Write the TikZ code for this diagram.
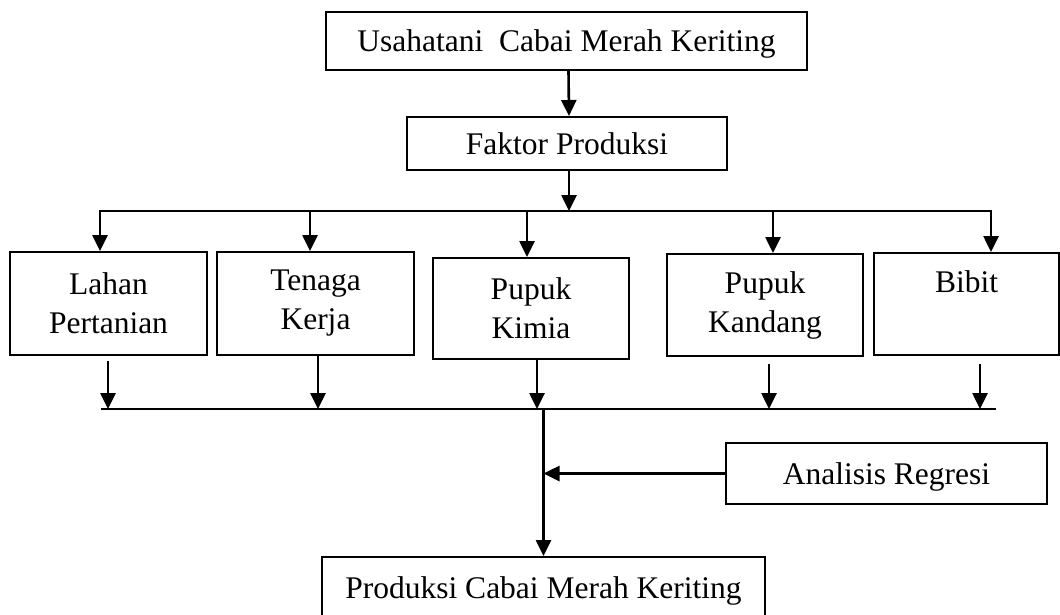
\documentclass[tikz,border=0pt]{standalone}
\usepackage{fontspec}
\setmainfont{Liberation Serif}
\usetikzlibrary{arrows.meta}
\begin{document}
\begin{tikzpicture}[x=1pt,y=-1pt,
  box/.style={draw, line width=2pt, inner sep=0pt, font=\fontsize{31.5}{39}\selectfont},
  one/.style={text height=21pt, text depth=0pt},
  two/.style={align=center},
  arr/.style={line width=2.6pt, -{Triangle[length=16pt,width=15pt]}},
  ln/.style={line width=2.6pt, line cap=rect}]
\useasboundingbox (0,0) rectangle (1060,614);
\clip (0,0) rectangle (1060,614);

\node[box,one,minimum width=481pt,minimum height=58pt] (top) at (566.5,41) {Usahatani\ \ Cabai Merah Keriting};
\node[box,one,minimum width=320pt,minimum height=53pt] (faktor) at (567,143.5) {Faktor Produksi};

\node[box,two,minimum width=197pt,minimum height=103pt] (lahan) at (108.5,303.5) {Lahan\\Pertanian};
\node[box,two,minimum width=197pt,minimum height=103pt] (tenaga) at (315.5,303.5) {Tenaga\\Kerja};
\node[box,two,minimum width=196pt,minimum height=101pt] (kimia) at (531,308.5) {Pupuk\\Kimia};
\node[box,two,minimum width=196pt,minimum height=102pt] (kandang) at (765,305) {Pupuk\\Kandang};
\node[box,two,minimum width=185pt,minimum height=102pt] (bibit) at (966.5,304) {Bibit\\\phantom{Kandang}};

\node[box,one,minimum width=321pt,minimum height=61pt] (analisis) at (886.5,473.5) {Analisis Regresi};
\node[box,one,minimum width=443pt,minimum height=61pt] (produksi) at (543.5,587.5) {Produksi Cabai Merah Keriting};

\coordinate (b1l) at (100,211);
\coordinate (b1r) at (991,211);
\coordinate (b2l) at (102,409);
\coordinate (b2r) at (995,409);

% top part
\draw[arr] ([xshift=2pt]top.south) -- ([xshift=2pt]faktor.north);
\draw[arr] ([xshift=2pt]faktor.south) -- ([xshift=2pt]faktor.south |- b1l);
\draw[ln] (b1l) -- (b1r);
\draw[arr] (b1l) -- (b1l |- lahan.north);
\draw[arr] ([xshift=-5.5pt]tenaga.north |- b1l) -- ([xshift=-5.5pt]tenaga.north);
\draw[arr] ([xshift=-4pt]kimia.north |- b1l) -- ([xshift=-4pt]kimia.north);
\draw[arr] ([xshift=8pt]kandang.north |- b1l) -- ([xshift=8pt]kandang.north);
\draw[arr] (b1r) -- (b1r |- bibit.north);

% lower part
\draw[arr] ([xshift=-0.5pt,yshift=-5pt]lahan.south) -- ([xshift=-0.5pt]lahan.south |- b2l);
\draw[arr] ([xshift=2.5pt]tenaga.south) -- ([xshift=2.5pt]tenaga.south |- b2l);
\draw[arr] ([xshift=6pt]kimia.south) -- ([xshift=6pt]kimia.south |- b2l);
\draw[arr] ([xshift=4pt,yshift=-7pt]kandang.south) -- ([xshift=4pt]kandang.south |- b2l);
\draw[arr] ([xshift=13.5pt,yshift=-8pt]bibit.south) -- ([xshift=13.5pt]bibit.south |- b2l);
\draw[ln] (b2l) -- (b2r);

\draw[arr] (produksi.north |- b2l) -- (produksi.north);
\draw[arr] (analisis.west) -- (analisis.west -| produksi.north);
\end{tikzpicture}
\end{document}
